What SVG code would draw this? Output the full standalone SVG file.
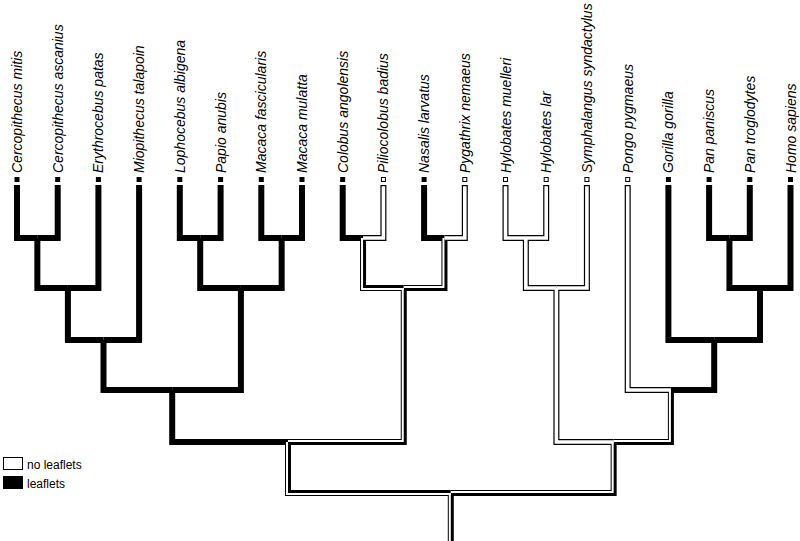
<svg xmlns="http://www.w3.org/2000/svg" width="800" height="541" viewBox="0 0 800 541">
<style>
.b{fill:none;stroke:#000;stroke-width:6;stroke-linejoin:miter;stroke-linecap:butt}
.w{fill:none;stroke:#fff;stroke-width:3.6;stroke-linejoin:miter;stroke-linecap:butt}
.s{fill:none;stroke:#fff;stroke-width:2;stroke-linejoin:miter;stroke-linecap:butt}
.lab{font-family:"Liberation Sans",Arial,sans-serif;font-size:14px;font-style:italic;fill:#000}
.leg{font-family:"Liberation Sans",Arial,sans-serif;font-size:12px;fill:#000}
.mb{fill:#000}
.mw{fill:#fff;stroke:#000;stroke-width:1}
</style>
<rect width="800" height="541" fill="#fff"/>
<g id="connectors">
<g id="black-layer">
<path class="b" d="M37.35 238 H17 V185"/>
<path class="b" d="M37.35 238 H57.7 V185"/>
<path class="b" d="M67.9 288 H37.35 V238"/>
<path class="b" d="M67.9 288 H98.4 V185"/>
<path class="b" d="M103.5 340 H67.9 V288"/>
<path class="b" d="M103.5 340 H139.1 V185"/>
<path class="b" d="M200.2 238 H179.8 V185"/>
<path class="b" d="M200.2 238 H220.6 V185"/>
<path class="b" d="M281.65 238 H261.3 V185"/>
<path class="b" d="M281.65 238 H302 V185"/>
<path class="b" d="M240.9 288 H200.2 V238"/>
<path class="b" d="M240.9 288 H281.65 V238"/>
<path class="b" d="M172.2 390 H103.5 V340"/>
<path class="b" d="M172.2 390 H240.9 V288"/>
<path class="b" d="M288 442 H172.2 V390"/>
<path class="b" d="M363.05 238 H342.7 V185"/>
<path class="b" d="M363.05 238 H383.4 V185"/>
<path class="b" d="M444.45 238 H424.1 V185"/>
<path class="b" d="M444.45 238 H464.8 V185"/>
<path class="b" d="M403.75 288 H363.05 V238"/>
<path class="b" d="M403.75 288 H444.45 V238"/>
<path class="b" d="M288 442 H403.75 V288"/>
<path class="b" d="M450.8 493 H288 V442"/>
<path class="b" d="M525.85 238 H505.5 V185"/>
<path class="b" d="M525.85 238 H546.2 V185"/>
<path class="b" d="M556.4 288 H525.85 V238"/>
<path class="b" d="M556.4 288 H586.9 V185"/>
<path class="b" d="M613.65 442 H556.4 V288"/>
<path class="b" d="M729.45 238 H709.1 V185"/>
<path class="b" d="M729.45 238 H749.8 V185"/>
<path class="b" d="M760 288 H729.45 V238"/>
<path class="b" d="M760 288 H790.5 V185"/>
<path class="b" d="M714.2 340 H668.4 V185"/>
<path class="b" d="M714.2 340 H760 V288"/>
<path class="b" d="M670.9 390 H714.2 V340"/>
<path class="b" d="M670.9 390 H627.7 V185"/>
<path class="b" d="M613.65 442 H670.9 V390"/>
<path class="b" d="M450.8 493 H613.65 V442"/>
<path class="b" d="M450.8 541 V493"/>
</g>
<g id="white-layer">
<path class="w" d="M363.05 238 H383.4 V186.3"/>
<path class="w" d="M444.45 238 H464.8 V186.3"/>
<path class="w" d="M525.85 238 H505.5 V186.3"/>
<path class="w" d="M525.85 238 H546.2 V186.3"/>
<path class="w" d="M556.4 288 H525.85 V238"/>
<path class="w" d="M556.4 288 H586.9 V186.3"/>
<path class="w" d="M613.65 442 H556.4 V288"/>
<path class="w" d="M670.9 390 H627.7 V186.3"/>
<path class="s" d="M403.75 289 H362.05 V238"/>
<path class="s" d="M403.75 287 H443.45 V238"/>
<path class="s" d="M288 441 H402.75 V288"/>
<path class="s" d="M450.8 494 H287 V442"/>
<path class="s" d="M613.65 441 H669.9 V390"/>
<path class="s" d="M450.8 492 H612.65 V442"/>
<path class="s" d="M449.8 541 V493"/>
</g>
</g>
<g id="leaf-markers">
<rect class="mb" x="14.5" y="177" width="5" height="5"/>
<rect class="mb" x="55.2" y="177" width="5" height="5"/>
<rect class="mb" x="95.9" y="177" width="5" height="5"/>
<rect class="mb" x="136.6" y="177" width="5" height="5"/>
<rect class="mb" x="177.3" y="177" width="5" height="5"/>
<rect class="mb" x="218.1" y="177" width="5" height="5"/>
<rect class="mb" x="258.8" y="177" width="5" height="5"/>
<rect class="mb" x="299.5" y="177" width="5" height="5"/>
<rect class="mb" x="340.2" y="177" width="5" height="5"/>
<rect class="mw" x="381.4" y="177.5" width="4" height="4"/>
<rect class="mb" x="421.6" y="177" width="5" height="5"/>
<rect class="mw" x="462.8" y="177.5" width="4" height="4"/>
<rect class="mw" x="503.5" y="177.5" width="4" height="4"/>
<rect class="mw" x="544.2" y="177.5" width="4" height="4"/>
<rect class="mw" x="584.9" y="177.5" width="4" height="4"/>
<rect class="mw" x="625.7" y="177.5" width="4" height="4"/>
<rect class="mb" x="665.9" y="177" width="5" height="5"/>
<rect class="mb" x="706.6" y="177" width="5" height="5"/>
<rect class="mb" x="747.3" y="177" width="5" height="5"/>
<rect class="mb" x="788" y="177" width="5" height="5"/>
</g>
<g id="leaf-cercopithecus-mitis"><text class="lab" transform="translate(22,173) rotate(-90)">Cercopithecus mitis</text></g>
<g id="leaf-cercopithecus-ascanius"><text class="lab" transform="translate(62.7,173) rotate(-90)">Cercopithecus ascanius</text></g>
<g id="leaf-erythrocebus-patas"><text class="lab" transform="translate(103.4,173) rotate(-90)">Erythrocebus patas</text></g>
<g id="leaf-miopithecus-talapoin"><text class="lab" transform="translate(144.1,173) rotate(-90)">Miopithecus talapoin</text></g>
<g id="leaf-lophocebus-albigena"><text class="lab" transform="translate(184.8,173) rotate(-90)">Lophocebus albigena</text></g>
<g id="leaf-papio-anubis"><text class="lab" transform="translate(225.6,173) rotate(-90)">Papio anubis</text></g>
<g id="leaf-macaca-fascicularis"><text class="lab" transform="translate(266.3,173) rotate(-90)">Macaca fascicularis</text></g>
<g id="leaf-macaca-mulatta"><text class="lab" transform="translate(307,173) rotate(-90)">Macaca mulatta</text></g>
<g id="leaf-colobus-angolensis"><text class="lab" transform="translate(347.7,173) rotate(-90)">Colobus angolensis</text></g>
<g id="leaf-piliocolobus-badius"><text class="lab" transform="translate(388.4,173) rotate(-90)">Piliocolobus badius</text></g>
<g id="leaf-nasalis-larvatus"><text class="lab" transform="translate(429.1,173) rotate(-90)">Nasalis larvatus</text></g>
<g id="leaf-pygathrix-nemaeus"><text class="lab" transform="translate(469.8,173) rotate(-90)">Pygathrix nemaeus</text></g>
<g id="leaf-hylobates-muelleri"><text class="lab" transform="translate(510.5,173) rotate(-90)">Hylobates muelleri</text></g>
<g id="leaf-hylobates-lar"><text class="lab" transform="translate(551.2,173) rotate(-90)">Hylobates lar</text></g>
<g id="leaf-symphalangus-syndactylus"><text class="lab" transform="translate(591.9,173) rotate(-90)">Symphalangus syndactylus</text></g>
<g id="leaf-pongo-pygmaeus"><text class="lab" transform="translate(632.7,173) rotate(-90)">Pongo pygmaeus</text></g>
<g id="leaf-gorilla-gorilla"><text class="lab" transform="translate(673.4,173) rotate(-90)">Gorilla gorilla</text></g>
<g id="leaf-pan-paniscus"><text class="lab" transform="translate(714.1,173) rotate(-90)">Pan paniscus</text></g>
<g id="leaf-pan-troglodytes"><text class="lab" transform="translate(754.8,173) rotate(-90)">Pan troglodytes</text></g>
<g id="leaf-homo-sapiens"><text class="lab" transform="translate(795.5,173) rotate(-90)">Homo sapiens</text></g>
<g id="legend">
<rect x="3.5" y="457.5" width="19" height="12" fill="#fff" stroke="#000" stroke-width="1"/>
<text class="leg" x="27" y="469">no leaflets</text>
<rect x="3" y="476" width="20" height="13" fill="#000"/>
<text class="leg" x="27" y="488">leaflets</text>
</g>
</svg>
